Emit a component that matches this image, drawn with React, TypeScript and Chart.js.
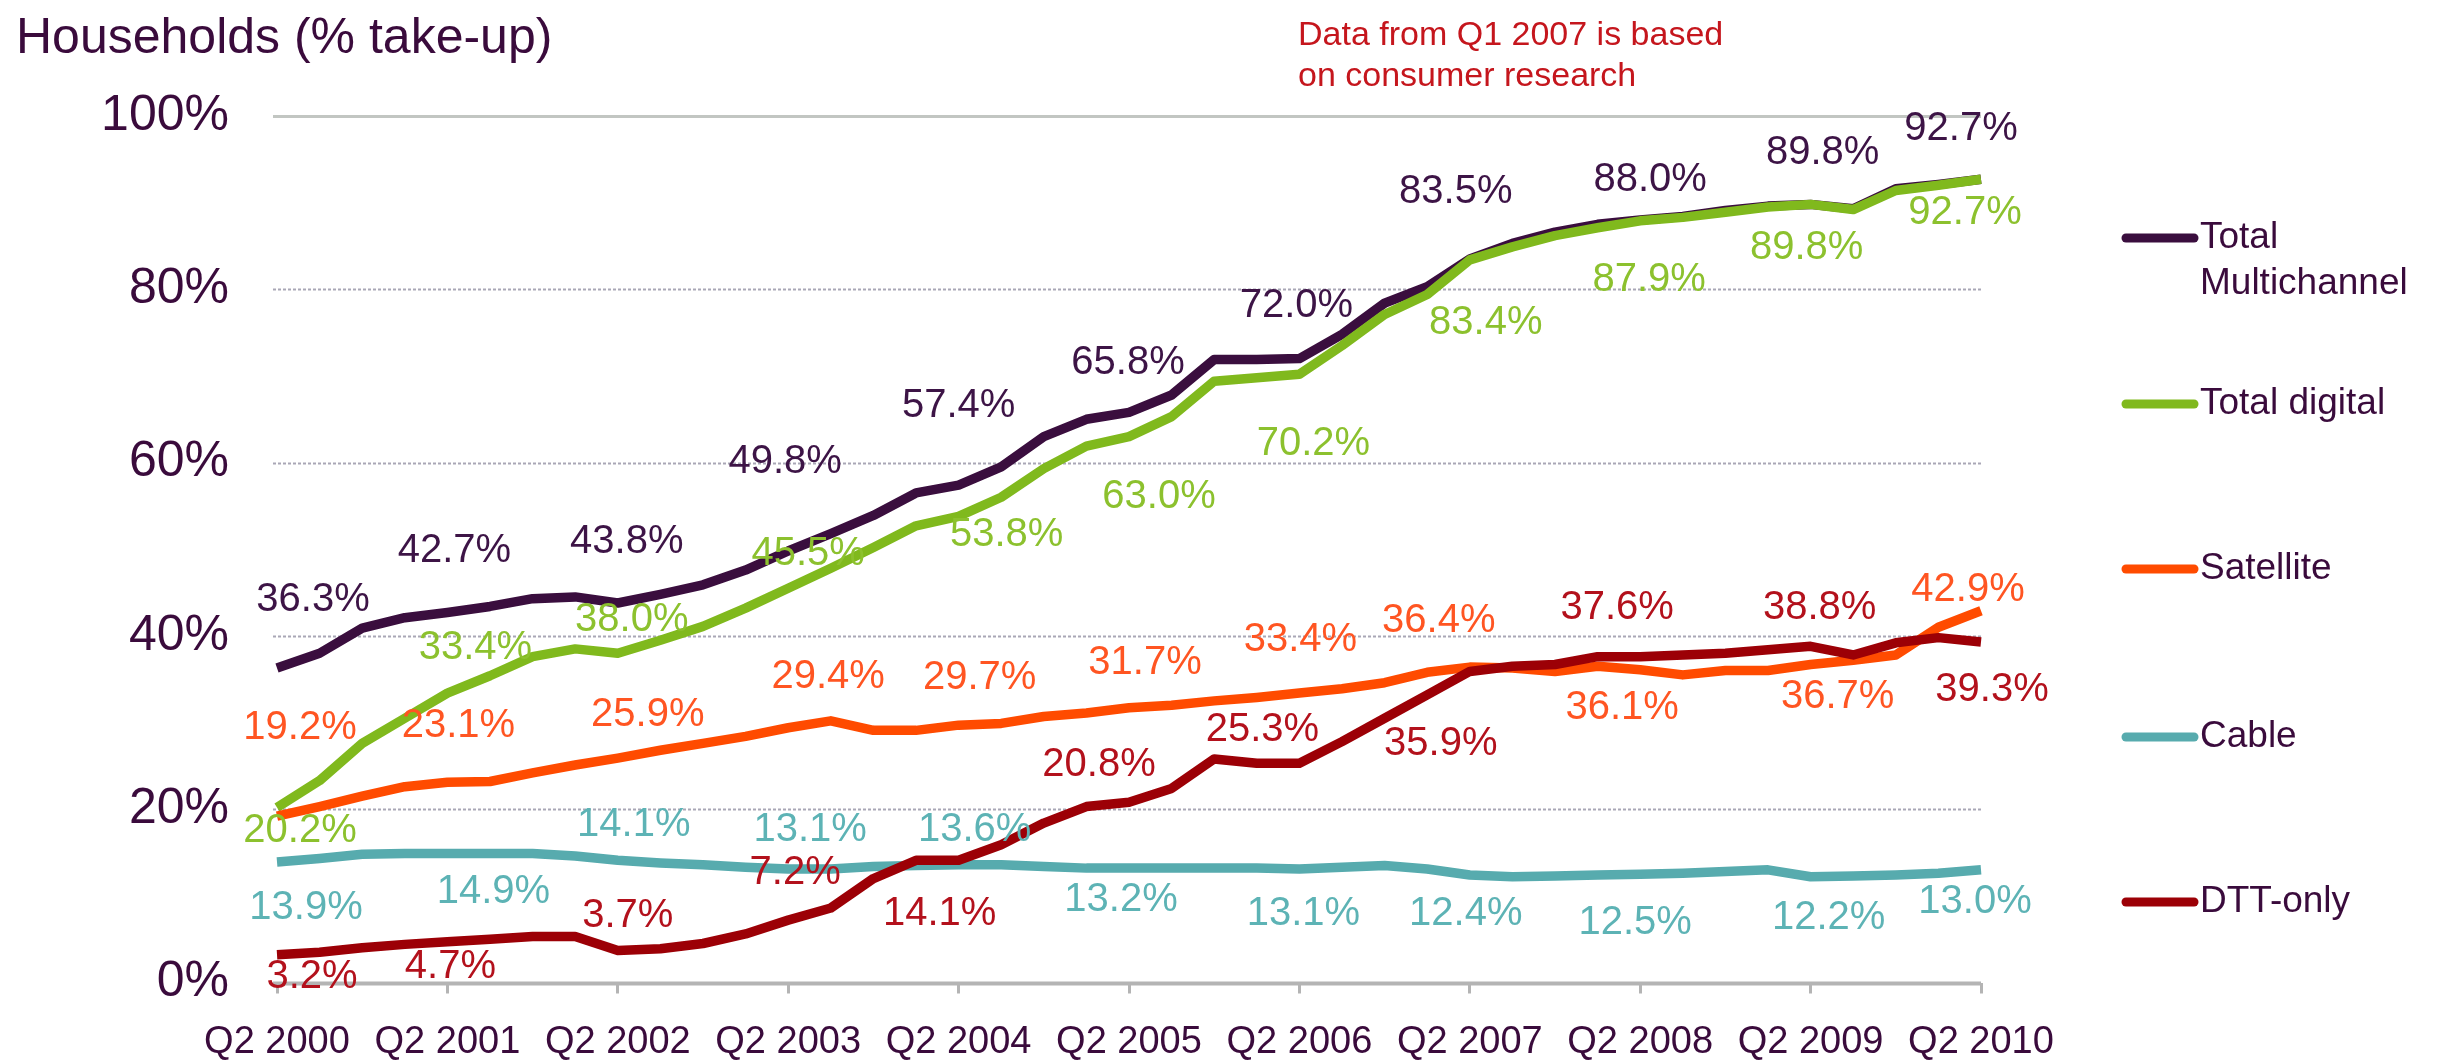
import React, { useEffect, useRef } from 'react';
import { Chart, registerables } from 'chart.js';

Chart.register(...registerables);

// ---------- DATA ----------
const quarterLabels: string[] = [
  'Q2 2000', 'Q3 2000', 'Q4 2000', 'Q1 2001',
  'Q2 2001', 'Q3 2001', 'Q4 2001', 'Q1 2002',
  'Q2 2002', 'Q3 2002', 'Q4 2002', 'Q1 2003',
  'Q2 2003', 'Q3 2003', 'Q4 2003', 'Q1 2004',
  'Q2 2004', 'Q3 2004', 'Q4 2004', 'Q1 2005',
  'Q2 2005', 'Q3 2005', 'Q4 2005', 'Q1 2006',
  'Q2 2006', 'Q3 2006', 'Q4 2006', 'Q1 2007',
  'Q2 2007', 'Q3 2007', 'Q4 2007', 'Q1 2008',
  'Q2 2008', 'Q3 2008', 'Q4 2008', 'Q1 2009',
  'Q2 2009', 'Q3 2009', 'Q4 2009', 'Q1 2010',
  'Q2 2010',
];

const totalMultichannel: number[] = [
  36.3, 38.0, 40.9, 42.1, 42.7, 43.4, 44.3, 44.5, 43.8, 44.8,
  45.9, 47.6, 49.8, 51.8, 53.9, 56.5, 57.4, 59.5, 63.0, 65.0,
  65.8, 67.8, 71.9, 71.9, 72.0, 74.8, 78.4, 80.3, 83.5, 85.3,
  86.6, 87.5, 88.0, 88.4, 89.1, 89.6, 89.8, 89.3, 91.6, 92.1,
  92.7,
];

const totalDigital: number[] = [
  20.2, 23.3, 27.6, 30.5, 33.4, 35.4, 37.6, 38.5, 38.0, 39.5,
  41.1, 43.2, 45.5, 47.8, 50.2, 52.7, 53.8, 56.0, 59.3, 61.9,
  63.0, 65.3, 69.4, 69.8, 70.2, 73.5, 77.1, 79.4, 83.4, 84.9,
  86.2, 87.1, 87.9, 88.3, 88.9, 89.5, 89.8, 89.2, 91.4, 92.0,
  92.7,
];

const satellite: number[] = [
  19.2, 20.3, 21.5, 22.6, 23.1, 23.2, 24.2, 25.1, 25.9, 26.8,
  27.6, 28.4, 29.4, 30.2, 29.1, 29.1, 29.7, 29.9, 30.7, 31.1,
  31.7, 32.0, 32.5, 32.9, 33.4, 33.9, 34.6, 35.8, 36.4, 36.3,
  35.9, 36.5, 36.1, 35.5, 36.0, 36.0, 36.7, 37.2, 37.8, 41.0,
  42.9,
];

const cable: number[] = [
  13.9, 14.3, 14.8, 14.9, 14.9, 14.9, 14.9, 14.6, 14.1, 13.8,
  13.6, 13.3, 13.1, 13.1, 13.4, 13.5, 13.6, 13.6, 13.4, 13.2,
  13.2, 13.2, 13.2, 13.2, 13.1, 13.3, 13.5, 13.1, 12.4, 12.2,
  12.3, 12.4, 12.5, 12.6, 12.8, 13.0, 12.2, 12.3, 12.4, 12.6,
  13.0,
];

const dttOnly: number[] = [
  3.2, 3.5, 4.0, 4.4, 4.7, 5.0, 5.3, 5.3, 3.7, 3.9,
  4.5, 5.6, 7.2, 8.6, 12.0, 14.1, 14.1, 15.9, 18.4, 20.3,
  20.8, 22.4, 25.8, 25.3, 25.3, 27.8, 30.5, 33.2, 35.9, 36.5,
  36.7, 37.6, 37.6, 37.8, 38.0, 38.4, 38.8, 37.8, 39.2, 39.8,
  39.3,
];

const seriesNames: string[][] = [
  ['Total', 'Multichannel'],
  ['Total digital'],
  ['Satellite'],
  ['Cable'],
  ['DTT-only'],
];

const yTickValues: number[] = [0, 20, 40, 60, 80, 100];

const titleText = 'Households (% take-up)';
const noteLines: string[] = ['Data from Q1 2007 is based', 'on consumer research'];

// ---------- STYLES ----------
const FONT = '"Liberation Sans", Arial, Helvetica, sans-serif';
const TEXT = '#3a0b3c';
const lineColors = ['#3a0e3e', '#80b91d', '#ff4b00', '#57abae', '#9c0006'];
const labelColors = ['#3d1446', '#8cc12e', '#ff5522', '#5db3b5', '#b3111c'];

// label offsets (px) relative to the annual (Q2) data point, per series
const labelOffsets: number[][][] = [
  [[36, -68], [7, -62], [9, -61], [-3, -89], [0, -79], [-1, -49], [-3, -53], [-14, -67], [10, -40], [12, -51], [-20, -50]],
  [[23, 24], [28, -45], [14, -33], [20, -34], [48, 19], [30, 60], [14, 70], [16, 63], [9, 59], [-4, 44], [-16, 34]],
  [[23, -88], [11, -56], [30, -43], [40, -51], [21, -47], [16, -45], [1, -53], [-31, -46], [-18, 38], [27, 32], [-13, -21]],
  [[29, 46], [46, 39], [16, -35], [22, -39], [16, -35], [-8, 32], [4, 45], [-4, 39], [-5, 49], [18, 41], [-6, 32]],
  [[35, 22], [3, 25], [10, -34], [7, -47], [-19, 54], [-30, -37], [-37, -33], [-29, 73], [-23, -49], [9, -38], [11, 48]],
];

const legendRowsY = [238, 404, 569, 737, 902];

const overlayPlugin = {
  id: 'overlay',
  beforeDatasetsDraw(chart: any) {
    const { ctx, chartArea, scales } = chart;
    const y = scales.y;
    ctx.save();
    yTickValues.forEach((v) => {
      const py = Math.round(y.getPixelForValue(v)) + 0.5;
      ctx.beginPath();
      if (v === 100) {
        ctx.strokeStyle = '#c2c6c2';
        ctx.lineWidth = 3;
        ctx.setLineDash([]);
      } else if (v === 0) {
        ctx.strokeStyle = '#b4b4b4';
        ctx.lineWidth = 4;
        ctx.setLineDash([]);
      } else {
        ctx.strokeStyle = '#a9a7b6';
        ctx.lineWidth = 2;
        ctx.setLineDash([3, 2]);
      }
      ctx.moveTo(chartArea.left - 4, py);
      ctx.lineTo(chartArea.right, py);
      ctx.stroke();
    });
    ctx.restore();
  },
  afterDatasetsDraw(chart: any) {
    const { ctx } = chart;
    ctx.save();
    ctx.font = `40px ${FONT}`;
    ctx.textAlign = 'center';
    ctx.textBaseline = 'middle';
    chart.data.datasets.forEach((ds: any, i: number) => {
      const meta = chart.getDatasetMeta(i);
      ctx.fillStyle = labelColors[i];
      let j = 0;
      for (let k = 0; k < ds.data.length; k += 4) {
        const pt = meta.data[k];
        const off = labelOffsets[i][j] || [0, -30];
        ctx.fillText(ds.data[k].toFixed(1) + '%', pt.x + off[0], pt.y + off[1]);
        j++;
      }
    });
    ctx.restore();
  },
  afterDraw(chart: any) {
    const { ctx } = chart;
    ctx.save();
    // title
    ctx.fillStyle = TEXT;
    ctx.font = `50px ${FONT}`;
    ctx.textAlign = 'left';
    ctx.textBaseline = 'alphabetic';
    ctx.fillText(titleText, 16, 53);
    // note
    ctx.fillStyle = '#c5161d';
    ctx.font = `34px ${FONT}`;
    ctx.fillText(noteLines[0], 1298, 45);
    ctx.fillText(noteLines[1], 1298, 86);
    // legend
    chart.data.datasets.forEach((ds: any, i: number) => {
      const ry = legendRowsY[i];
      ctx.strokeStyle = ds.borderColor;
      ctx.lineWidth = 9;
      ctx.lineCap = 'round';
      ctx.beginPath();
      ctx.moveTo(2126, ry);
      ctx.lineTo(2194, ry);
      ctx.stroke();
      ctx.fillStyle = TEXT;
      ctx.font = `37px ${FONT}`;
      ctx.textBaseline = 'middle';
      ctx.textAlign = 'left';
      const lines: string[] = seriesNames[i];
      lines.forEach((t, li) => ctx.fillText(t, 2200, ry + li * 46));
    });
    ctx.restore();
  },
};

export default function App() {
  const canvasRef = useRef<HTMLCanvasElement | null>(null);

  useEffect(() => {
    document.body.style.margin = '0';
    const canvas = canvasRef.current;
    if (!canvas) return;
    const mk = (i: number, data: number[], order: number) => ({
      label: seriesNames[i].join(' '),
      data,
      borderColor: lineColors[i],
      backgroundColor: lineColors[i],
      borderWidth: 9.5,
      pointRadius: 0,
      tension: 0,
      borderJoinStyle: 'round' as const,
      borderCapStyle: 'butt' as const,
      fill: false,
      order,
    });
    const chart = new Chart(canvas, {
      type: 'line',
      data: {
        labels: quarterLabels,
        datasets: [
          mk(0, totalMultichannel, 5),
          mk(1, totalDigital, 4),
          mk(2, satellite, 3),
          mk(3, cable, 2),
          mk(4, dttOnly, 1),
        ],
      },
      options: {
        animation: false,
        responsive: false,
        devicePixelRatio: 1,
        layout: { padding: { left: 0, right: 459, top: 116, bottom: 0 } },
        plugins: {
          legend: { display: false },
          tooltip: { enabled: false },
          title: { display: false },
        },
        scales: {
          x: {
            type: 'category',
            offset: false,
            grid: {
              display: true,
              drawOnChartArea: false,
              drawTicks: true,
              tickLength: 11,
              tickWidth: 3,
              tickColor: (c: any) => (c.index % 4 === 0 ? '#b4b4b4' : 'rgba(0,0,0,0)'),
            },
            border: { display: false },
            ticks: {
              autoSkip: false,
              maxRotation: 0,
              minRotation: 0,
              padding: 26,
              color: TEXT,
              font: { family: FONT, size: 38 },
              callback: (_v: any, idx: number) => (idx % 4 === 0 ? quarterLabels[idx] : ''),
            },
            afterFit: (s: any) => {
              s.height = 79.5;
            },
          },
          y: {
            min: 0,
            max: 100,
            grid: { display: false, drawTicks: false },
            border: { display: false },
            ticks: {
              stepSize: 20,
              padding: 48,
              color: TEXT,
              font: { family: FONT, size: 50 },
              callback: (v: any) => v + '%',
            },
            afterFit: (s: any) => {
              s.width = 277;
            },
          },
        },
      },
      plugins: [overlayPlugin],
    });
    return () => chart.destroy();
  }, []);

  return (
    <canvas
      ref={canvasRef}
      width={2440}
      height={1062}
      style={{ display: 'block', width: 2440, height: 1062 }}
    />
  );
}
